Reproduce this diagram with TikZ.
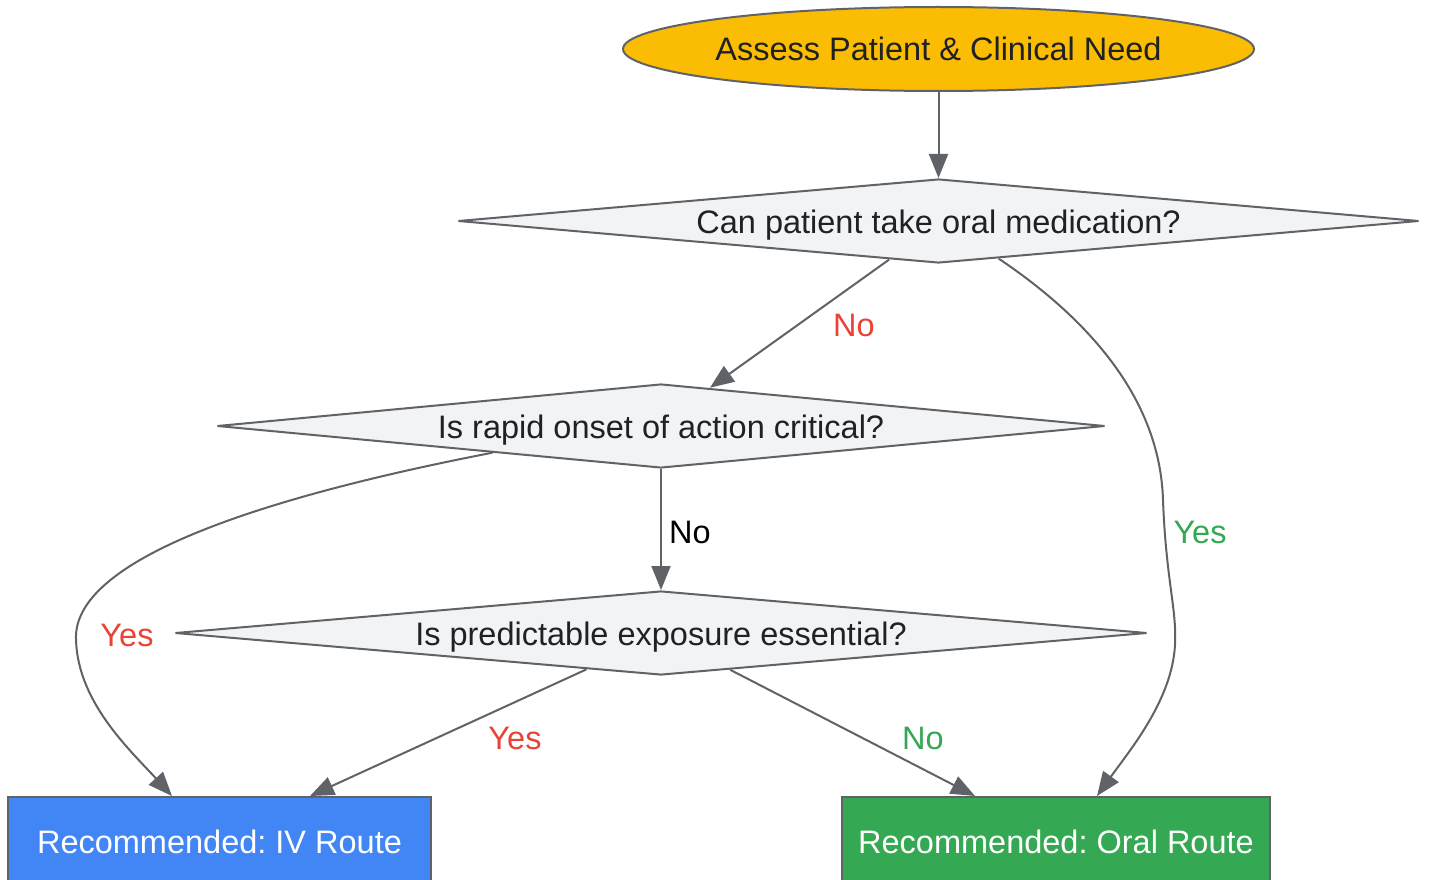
\documentclass[tikz,border=0pt]{standalone}
\usepackage{fontspec}
\setmainfont{Liberation Sans}
\frenchspacing
\usetikzlibrary{shapes.geometric,arrows.meta,calc}
\definecolor{gyellow}{HTML}{FBBC04}
\definecolor{gblue}{HTML}{4285F4}
\definecolor{ggreen}{HTML}{34A853}
\definecolor{gred}{HTML}{EA4335}
\definecolor{gfill}{HTML}{F1F3F4}
\definecolor{gstroke}{HTML}{5F6368}
\definecolor{gtext}{HTML}{202124}
\begin{document}
\begin{tikzpicture}[x=1pt,y=-1pt,
  txt/.style={font=\fontsize{32.5}{38}\selectfont},
  shapetxt/.style={txt,text height=24pt,text depth=0pt},
  startnode/.style={ellipse,draw=gstroke,line width=2pt,fill=gyellow,inner sep=0pt,minimum width=629pt,minimum height=84pt,shapetxt,text=gtext},
  decision/.style={diamond,draw=gstroke,line width=2pt,fill=gfill,inner sep=0pt,aspect=11.4,shapetxt,text=gtext,minimum height=84pt},
  endbox/.style={rectangle,draw=gstroke,line width=2pt,inner sep=0pt,minimum height=88pt,shapetxt,text=white},
  arr/.style={draw=gstroke,line width=2pt,-{Triangle[length=24pt,width=19pt]}},
  lbl/.style={txt,inner sep=0pt}]
\useasboundingbox (0,0) rectangle (1430,880);
\node[startnode] (start) at (938.5,49) {Assess Patient \& Clinical Need};
\node[decision,minimum width=961pt] (d1) at (938.5,221) {Can patient take oral medication?};
\node[decision,minimum width=888pt] (d2) at (661,426) {Is rapid onset of action critical?};
\node[decision,minimum width=972pt] (d3) at (661,633) {Is predictable exposure essential?};
\node[endbox,fill=gblue,minimum width=423pt] (iv) at (219.5,841) {Recommended: IV Route};
\node[endbox,fill=ggreen,minimum width=428pt] (oral) at (1056,841) {Recommended: Oral Route};
\draw[arr] (start.south) -- (d1.north);
\draw[arr] (d1.218.5) -- (d2.38.8);
\draw[arr] (d1.-32.1) .. controls (1090,320) and (1160,400) .. (1163,500)
  .. controls (1166,580) and (1177,610) .. (1175,645)
  .. controls (1172,700) and (1130,750) .. ([xshift=41pt]oral.north);
\draw[arr] (d2.south) -- (d3.north);
\draw[arr] (d2.189.1) .. controls (300,490) and (80,550) .. (76,635)
  .. controls (75,700) and (130,750) .. ([xshift=-47.5pt]iv.north);
\draw[arr] (d3.206.25) -- ([xshift=90.5pt]iv.north);
\draw[arr] (d3.-28.2) -- ([xshift=-81pt]oral.north);
\node[lbl,text=gred] (l1) at (854,325) {No};
\node[lbl,text=ggreen] (l2) at (1200,532) {Yes};
\node[lbl,text=black] (l3) at (690,532) {No};
\node[lbl,text=gred] (l4) at (127,635) {Yes};
\node[lbl,text=gred] (l5) at (515,738) {Yes};
\node[lbl,text=ggreen] (l6) at (923,738) {No};
\end{tikzpicture}
\end{document}
